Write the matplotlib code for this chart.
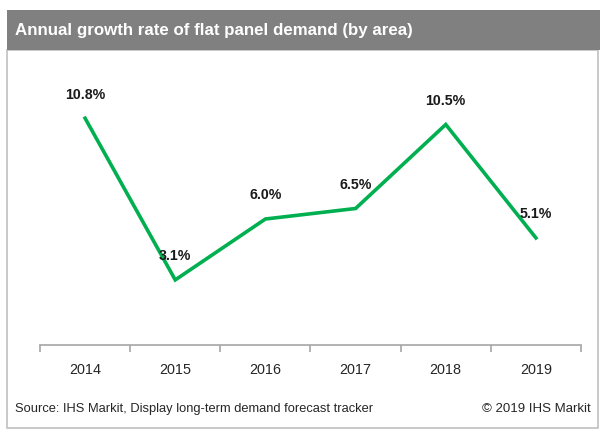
import matplotlib
matplotlib.use("Agg")
import matplotlib.pyplot as plt
from matplotlib.patches import Rectangle

years = ["2014", "2015", "2016", "2017", "2018", "2019"]
growth = [10.8, 3.1, 6.0, 6.5, 10.5, 5.1]
labels = ["10.8%", "3.1%", "6.0%", "6.5%", "10.5%", "5.1%"]

title = "Annual growth rate of flat panel demand (by area)"
source = "Source: IHS Markit, Display long-term demand forecast tracker"
copyright_txt = "\u00a9 2019 IHS Markit"

FONT = ["Liberation Sans", "DejaVu Sans"]
plt.rcParams['font.family'] = FONT

W, H = 608, 437
fig = plt.figure(figsize=(W / 100, H / 100), dpi=100)

def fx(x):
    return x / W

def fy(y):
    return 1 - y / H

# outer border
fig.patches.append(Rectangle((fx(7), fy(428)), fx(598) - fx(7), fy(50) - fy(428),
                             transform=fig.transFigure, facecolor="none",
                             edgecolor="#c0c0c0", linewidth=1.2, zorder=0))
# title bar
fig.patches.append(Rectangle((fx(7), fy(50)), fx(600) - fx(7), fy(10) - fy(50),
                             transform=fig.transFigure, facecolor="#808080",
                             edgecolor="none", zorder=1))
fig.text(fx(15), fy(31), title, color="white", fontsize=12.2, fontweight="bold",
         va="center", ha="left")

# axes: x from 40 to 581 px, y 0 at 345 px
left, right = 40, 581
bottom, top = 345, 60
ax = fig.add_axes([fx(left), fy(bottom), fx(right) - fx(left), fy(top) - fy(bottom)])
ax.set_zorder(3)
n = len(years)
xs = list(range(n))
ax.plot(xs, growth, color="#00B050", linewidth=2.6, solid_joinstyle="miter")
ax.set_xlim(-0.5, n - 0.5)
px_per_unit = 21.0
ax.set_ylim(0, (bottom - top) / px_per_unit)
for x, v, lab in zip(xs, growth, labels):
    ax.annotate(lab, (x, v), xytext=(0, 17), textcoords="offset points",
                ha="center", va="center", fontsize=10.2, fontweight="bold",
                color="#1a1a1a")

for s in ["top", "right", "left"]:
    ax.spines[s].set_visible(False)
ax.spines["bottom"].set_color("#a6a6a6")
ax.spines["bottom"].set_linewidth(1.2)
ax.set_yticks([])
ax.set_xticks([i - 0.5 for i in range(n + 1)], minor=False)
ax.set_xticklabels([])
ax.tick_params(axis="x", length=5, color="#a6a6a6", width=1.2, direction="out")
ax.set_xticks(xs, minor=True)
ax.set_xticklabels(years, minor=True, fontsize=10.4, color="#262626")
ax.tick_params(axis="x", which="minor", length=0, pad=13)
ax.patch.set_alpha(0)

fig.text(fx(15), fy(409), source, fontsize=9.3, color="#262626", va="center", ha="left")
fig.text(fx(591), fy(409), copyright_txt, fontsize=9.5, color="#262626", va="center", ha="right")

fig.savefig("out.png", dpi=100)
